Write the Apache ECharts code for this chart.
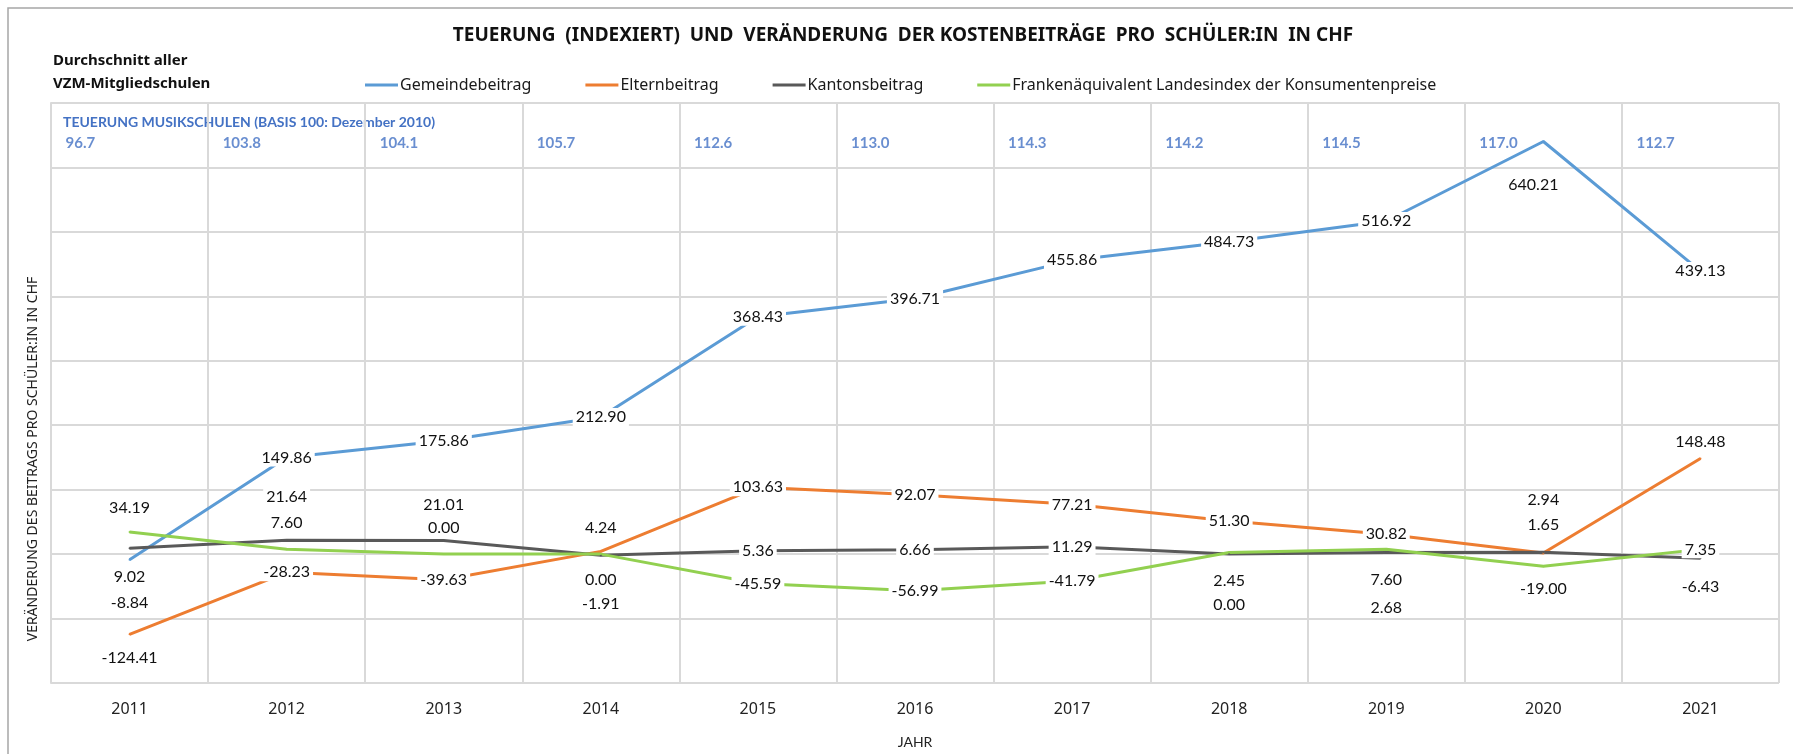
<!DOCTYPE html>
<html>
<head>
<meta charset="utf-8">
<script src="https://cdn.jsdelivr.net/npm/echarts@6/dist/echarts.min.js"></script>
<style>
  html, body { margin: 0; padding: 0; background: #fff; }
  #chart { width: 1793px; height: 754px; }
</style>
</head>
<body>
<div id="chart"></div>
<script>
// values
const years = ["2011", "2012", "2013", "2014", "2015", "2016", "2017", "2018", "2019", "2020", "2021"];
const teuerung = [96.7, 103.8, 104.1, 105.7, 112.6, 113.0, 114.3, 114.2, 114.5, 117.0, 112.7];
const gemeinde = [-8.84, 149.86, 175.86, 212.90, 368.43, 396.71, 455.86, 484.73, 516.92, 640.21, 439.13];
const eltern = [-124.41, -28.23, -39.63, 4.24, 103.63, 92.07, 77.21, 51.30, 30.82, 1.65, 148.48];
const kanton = [9.02, 21.64, 21.01, -1.91, 5.36, 6.66, 11.29, 0.00, 2.68, 2.94, -6.43];
const franken = [34.19, 7.60, 0.00, 0.00, -45.59, -56.99, -41.79, 2.45, 7.60, -19.00, 7.35];

// label shifts (px, down positive) as placed in the original
const gemeindeDy = [43, 0, 0, 0, 0, 0, 0, 0, 0, 43, 0];
const elternDy = [24, 0, 0, -24, 0, 0, 0, 0, 0, -28, -17];
const kantonDy = [29, -43, -36, 49, 0, 0, 0, 51, 55, -52, 29];
const frankenDy = [-24, -26, -26, 26, 0, 0, 0, 28, 31, 22, 0];

const FONT = "Lato, 'Noto Sans', sans-serif";
const WIDE = "'Noto Sans', sans-serif";
const INDEX_ROW_Y = 638;

function lineSeries(name, color, values, dy) {
  return {
    name: name,
    type: "line",
    data: values.map((v, i) => ({
      value: v,
      label: { offset: [name === "Gemeindebeitrag" && i === 9 ? -10 : 0, dy[i]] },
    })),
    color: color,
    symbol: "circle",
    symbolSize: 2,
    lineStyle: { width: 3, color: color },
    itemStyle: { color: color },
    label: {
      show: true,
      position: "inside",
      formatter: (p) => p.value.toFixed(2),
      fontFamily: FONT,
      fontSize: 16,
      color: "#111",
      backgroundColor: "#fff",
      padding: [1, 3],
    },
    emphasis: { disabled: true },
    z: 3,
  };
}

const chart = echarts.init(document.getElementById("chart"));
chart.setOption({
  animation: false,
  title: {
    text: "TEUERUNG  (INDEXIERT)  UND  VERÄNDERUNG  DER KOSTENBEITRÄGE  PRO  SCHÜLER:IN  IN CHF",
    left: 898,
    textAlign: "center",
    top: 21,
    textStyle: { fontFamily: WIDE, fontSize: 19, fontWeight: "bold", color: "#111" },
  },
  legend: {
    data: ["Gemeindebeitrag", "Elternbeitrag", "Kantonsbeitrag", "Frankenäquivalent Landesindex der Konsumentenpreise"],
    left: 360,
    top: 72,
    icon: "rect",
    itemWidth: 33,
    itemHeight: 3,
    itemGap: 54,
    textStyle: { fontFamily: WIDE, fontSize: 16, color: "#1a1a1a", padding: [0, 0, 0, -3] },
  },
  grid: { left: 51, right: 14, top: 103, bottom: 66 },
  xAxis: {
    type: "category",
    data: years,
    boundaryGap: true,
    name: "JAHR",
    nameLocation: "middle",
    nameGap: 52,
    nameTextStyle: { fontFamily: FONT, fontSize: 14, color: "#222" },
    axisLine: { lineStyle: { color: "#d9d9d9", width: 2 } },
    axisTick: { show: false },
    axisLabel: { fontFamily: WIDE, fontSize: 16, color: "#222", margin: 18 },
    splitLine: { show: true, lineStyle: { color: "#d9d9d9", width: 2 } },
  },
  yAxis: {
    type: "value",
    min: -200,
    max: 700,
    interval: 100,
    axisLine: { show: true, lineStyle: { color: "#d9d9d9", width: 2 } },
    axisTick: { show: false },
    axisLabel: { show: false },
    splitLine: { lineStyle: { color: "#d9d9d9", width: 2 } },
  },
  graphic: [
    {
      type: "rect",
      shape: { x: 8, y: 8, width: 1810, height: 800 },
      style: { fill: "none", stroke: "#a6a6a6", lineWidth: 1.5 },
      silent: true,
    },
    {
      type: "text",
      left: 53,
      top: 53,
      style: { text: "Durchschnitt aller", font: "bold 15px " + WIDE, fill: "#111" },
    },
    {
      type: "text",
      left: 53,
      top: 76,
      style: { text: "VZM-Mitgliedschulen", font: "bold 15px " + WIDE, fill: "#111" },
    },
    {
      type: "text",
      left: 63,
      top: 115,
      style: { text: "TEUERUNG MUSIKSCHULEN (BASIS 100: Dezember 2010)", font: "bold 14px " + FONT, fill: "#4472C4" },
    },
    {
      type: "text",
      x: 33,
      y: 459,
      rotation: Math.PI / 2,
      style: {
        text: "VERÄNDERUNG DES BEITRAGS PRO SCHÜLER:IN IN CHF",
        font: "14px " + WIDE,
        fill: "#222",
        align: "center",
        verticalAlign: "middle",
      },
    },
  ],
  series: [
    lineSeries("Gemeindebeitrag", "#5B9BD5", gemeinde, gemeindeDy),
    lineSeries("Elternbeitrag", "#ED7D31", eltern, elternDy),
    lineSeries("Kantonsbeitrag", "#595959", kanton, kantonDy),
    lineSeries("Frankenäquivalent Landesindex der Konsumentenpreise", "#92D050", franken, frankenDy),
    {
      name: "Teuerung",
      type: "scatter",
      symbolSize: 0,
      data: teuerung.map((t, i) => [years[i], INDEX_ROW_Y, t]),
      label: {
        show: true,
        position: "inside",
        align: "left",
        offset: [-64, 0],
        formatter: (p) => p.value[2].toFixed(1),
        fontFamily: FONT,
        fontSize: 15,
        fontWeight: "bold",
        color: "#4472C4",
      },
      silent: true,
      z: 2,
    },
  ],
});
</script>
</body>
</html>
